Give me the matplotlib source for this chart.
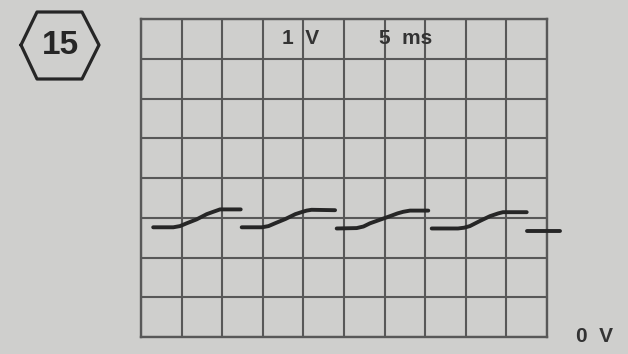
import matplotlib
matplotlib.use('Agg')
import matplotlib.pyplot as plt
import numpy as np

plt.rcParams['font.family'] = ['Liberation Sans', 'DejaVu Sans']

# ------------------------------------------------------------ #
# ---------------- trace data (time ms, volts) --------------- #
# ------------------------------------------------------------ #
time_div = 5      # ms / div
volt_div = 1      # V / div
n_xdiv = 10
n_ydiv = 8

seg1_t = [1.5, 3.98, 4.8, 5.62, 6.86, 8.09, 8.9, 9.32, 9.73, 12.28]
seg1_v = [2.76, 2.76, 2.79, 2.86, 2.96, 3.09, 3.15, 3.18, 3.21, 3.21]

seg2_t = [12.4, 14.9, 15.7, 16.5, 17.8, 19.0, 19.9, 20.4, 21.0, 23.9]
seg2_v = [2.76, 2.76, 2.79, 2.86, 2.97, 3.09, 3.15, 3.18, 3.20, 3.19]

seg3_t = [24.1, 26.56, 27.4, 28.2, 30.67, 31.6, 32.3, 33.13, 35.38]
seg3_v = [2.73, 2.74, 2.78, 2.86, 3.04, 3.11, 3.15, 3.18, 3.18]

seg4_t = [35.8, 39.04, 39.8, 40.5, 41.75, 42.98, 44.0, 44.58, 47.5]
seg4_v = [2.73, 2.73, 2.75, 2.79, 2.92, 3.04, 3.11, 3.14, 3.14]

seg5_t = [47.53, 51.6]
seg5_v = [2.67, 2.67]

badge_text = '15'
volt_label = '1  V'
time_label = '5  ms'
zero_label = '0  V'

# ------------------------------------------------------------ #
# ------------------------ FIGURE ---------------------------- #
# ------------------------------------------------------------ #
bg = '#cfcfcd'
grid_col = '#585858'
ink = '#262626'

fig = plt.figure(figsize=(6.28, 3.54), dpi=100)
fig.patch.set_facecolor(bg)

W, H = 628.0, 354.0
ax = fig.add_axes([141 / W, 1 - 337 / H, 406 / W, 318 / H])
ax.set_facecolor(bg)
ax.set_xlim(0, n_xdiv * time_div)
ax.set_ylim(0, n_ydiv * volt_div)
ax.set_xticks(np.arange(0, n_xdiv * time_div + 0.1, time_div))
ax.set_yticks(np.arange(0, n_ydiv * volt_div + 0.1, volt_div))
ax.tick_params(length=0, labelbottom=False, labelleft=False)
ax.grid(color=grid_col, linewidth=1.5)
for s in ax.spines.values():
    s.set_color(grid_col)
    s.set_linewidth(1.7)

for t, v in [(seg1_t, seg1_v), (seg2_t, seg2_v), (seg3_t, seg3_v),
             (seg4_t, seg4_v), (seg5_t, seg5_v)]:
    ax.plot(t, v, color=ink, linewidth=2.8, solid_capstyle='round',
            solid_joinstyle='round', clip_on=False, zorder=5)

# labels inside the screen
txt = dict(ha='center', va='center', fontsize=15, fontweight='bold', color='#333333')
fig.text(301 / W, 1 - 39 / H, volt_label, **txt)
fig.text(406 / W, 1 - 39 / H, time_label, **txt)
fig.text(595 / W, 1 - 337 / H, zero_label, **txt)

# hexagon badge
hx = np.array([21, 37, 82, 99, 82, 37, 21]) / W
hy = 1 - np.array([45, 12, 12, 45, 79, 79, 45]) / H
fig.add_artist(plt.Line2D(hx, hy, color='#262626', linewidth=2.3,
                          transform=fig.transFigure, solid_joinstyle='round'))
fig.text(60 / W, 1 - 46 / H, badge_text, ha='center', va='center',
         fontsize=24, fontweight='bold', color='#262626')

plt.savefig('out.png', dpi=100, facecolor=bg)
